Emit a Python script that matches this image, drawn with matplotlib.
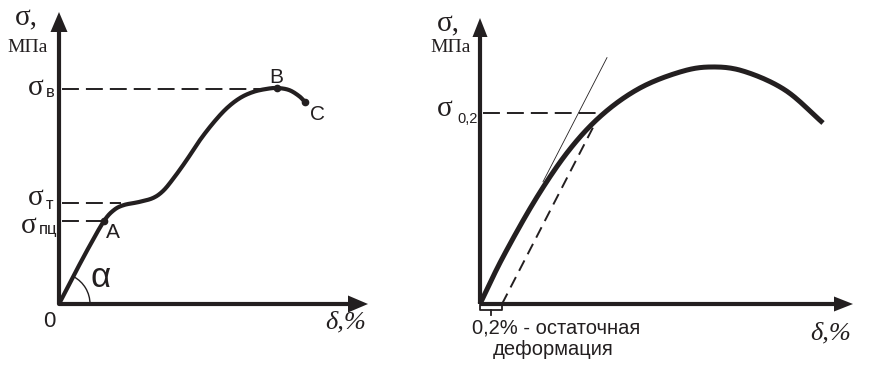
import numpy as np
import matplotlib
matplotlib.use("Agg")
import matplotlib.pyplot as plt
from matplotlib.patches import Polygon, Arc

# ---------------- data (strain, stress in drawing units) ----------------
left_delta = [0, 15, 30, 45, 55, 65, 80, 94, 104, 114, 127, 141, 155, 168, 181, 194, 207, 218, 230, 240, 246]
left_sigma = [0, 29, 57, 83, 94, 99, 102, 106, 113, 125, 143, 164, 182, 196, 206, 212, 215, 216, 214, 208, 202]
left_points = {"A": (45, 83), "B": (218, 216), "C": (246, 202)}
sigma_levels_left = {"в": 215, "т": 101, "пц": 83}

right_delta = [0, 23, 57, 90, 123, 160, 200, 230, 263, 305, 343]
right_sigma = [0, 47, 107, 155, 190, 216, 232, 237, 233, 214, 181]
sigma_02 = 191
offset_strain = 22          # 0,2 % offset
elastic_slope = 1.94        # slope of the initial (elastic) line
tangent_range = (63, 127)
offset_range = (offset_strain, 118)

INK = "#231f20"
SERIF = "Liberation Serif"
SANS = "Liberation Sans"


def smooth(xs, ys, n=20):
    """Catmull-Rom rendering of the read-off points."""
    x = np.asarray(xs, float)
    y = np.asarray(ys, float)
    P = np.column_stack([x, y])
    P = np.vstack([2 * P[0] - P[1], P, 2 * P[-1] - P[-2]])
    out = []
    t = np.linspace(0, 1, n, endpoint=False)[:, None]
    for i in range(1, len(P) - 2):
        p0, p1, p2, p3 = P[i - 1], P[i], P[i + 1], P[i + 2]
        seg = 0.5 * ((2 * p1) + (-p0 + p2) * t + (2 * p0 - 5 * p1 + 4 * p2 - p3) * t ** 2
                     + (-p0 + 3 * p1 - 3 * p2 + p3) * t ** 3)
        out.append(seg)
    out.append(P[-2][None, :])
    out = np.vstack(out)
    return out[:, 0], out[:, 1]


W, H = 876, 371
fig = plt.figure(figsize=(W / 100, H / 100), dpi=100)


def make_axes(x0, y0, x1, y1):
    ax = fig.add_axes([x0 / W, (H - y0) / H, (x1 - x0) / W, (y0 - y1) / H])
    ax.set_xlim(0, x1 - x0)
    ax.set_ylim(0, y0 - y1)
    ax.axis("off")
    return ax


def draw_axes_arrows(ax, xmax, ymax, head_len=20, head_w=8.5):
    ax.plot([0, 0], [0, ymax - head_len + 2], color=INK, lw=3.0, clip_on=False,
            solid_capstyle="butt")
    ax.plot([0, xmax - head_len + 2], [0, 0], color=INK, lw=3.0, clip_on=False,
            solid_capstyle="butt")
    ax.add_patch(Polygon([[0, ymax], [-head_w, ymax - head_len], [head_w, ymax - head_len]],
                         closed=True, color=INK, clip_on=False, lw=0))
    ax.add_patch(Polygon([[xmax, 0], [xmax - head_len, head_w], [xmax - head_len, -head_w]],
                         closed=True, color=INK, clip_on=False, lw=0))


def dashed_h(ax, y, x_end):
    ax.plot([3, x_end], [y, y], color=INK, lw=1.4, dashes=(8.7, 3.6), clip_on=False)


# ======================= LEFT PANEL =======================
axL = make_axes(59, 304, 368, 12)
draw_axes_arrows(axL, 309, 292)

dashed_h(axL, sigma_levels_left["в"], left_points["B"][0])
dashed_h(axL, sigma_levels_left["т"], 62)
dashed_h(axL, sigma_levels_left["пц"], left_points["A"][0])

xs, ys = smooth(left_delta, left_sigma)
axL.plot(xs, ys, color=INK, lw=3.0, solid_capstyle="round", solid_joinstyle="round",
         clip_on=False, zorder=3)
for name, (px, py) in left_points.items():
    axL.plot(px, py, "o", color=INK, ms=4.5, zorder=4, clip_on=False)

ang = np.degrees(np.arctan2(left_sigma[3], left_delta[3]))
axL.add_patch(Arc((0, 0), 62, 62, theta1=0, theta2=ang, color=INK, lw=1.0, clip_on=False))

axL.text(-44, 279, "σ,", fontsize=21, family=SERIF, color=INK, va="baseline", ha="left")
axL.text(-52, 252, "МПа", fontsize=14, family=SERIF, color=INK, va="baseline", ha="left")

axL.text(-31, 209, "σ", fontsize=21, family=SERIF, color=INK, va="baseline")
axL.text(-13, 207, "в", fontsize=12, family=SANS, color=INK, va="baseline")
axL.text(-31, 99, "σ", fontsize=21, family=SERIF, color=INK, va="baseline")
axL.text(-13, 95, "т", fontsize=12, family=SANS, color=INK, va="baseline")
axL.text(-38, 71, "σ", fontsize=21, family=SERIF, color=INK, va="baseline")
axL.text(-20, 70, "пц", fontsize=12, family=SANS, color=INK, va="baseline")

axL.text(47, 66, "A", fontsize=15, family=SANS, color=INK, va="baseline")
axL.text(210, 221, "B", fontsize=15, family=SANS, color=INK, va="baseline")
axL.text(251, 184, "C", fontsize=15, family=SANS, color=INK, va="baseline")
axL.text(31, 17, "α", fontsize=25, family=SANS, color=INK, va="baseline")
axL.text(-16, -23, "0", fontsize=16, family=SANS, color=INK, va="baseline")
axL.text(266, -24, "δ,%", fontsize=19, family=SERIF, style="italic", color=INK, va="baseline")

# ======================= RIGHT PANEL =======================
axR = make_axes(480, 304, 853, 18)
draw_axes_arrows(axR, 373, 286, head_len=19, head_w=7.5)

dashed_h(axR, sigma_02, 121)
xs, ys = smooth(right_delta, right_sigma)
axR.plot(xs, ys, color=INK, lw=3.6, solid_capstyle="butt", solid_joinstyle="round",
         clip_on=False, zorder=3)

tx = np.array(tangent_range, float)
axR.plot(tx, elastic_slope * tx, color=INK, lw=0.6, clip_on=False, zorder=2)
ox = np.array(offset_range, float)
axR.plot(ox, elastic_slope * (ox - offset_strain), color=INK, lw=1.4, dashes=(6.0, 3.6),
         clip_on=False, zorder=2)

# brace marking the 0,2 % offset
bx = [0, 0, offset_strain, offset_strain]
by = [-1, -6, -6, -1]
axR.plot(bx, by, color=INK, lw=1.3, clip_on=False)
axR.plot([offset_strain / 2, offset_strain / 2], [-6, -11], color=INK, lw=1.3, clip_on=False)

axR.text(-43, 273, "σ,", fontsize=21, family=SERIF, color=INK, va="baseline", ha="left")
axR.text(-50, 252, "МПа", fontsize=14, family=SERIF, color=INK, va="baseline", ha="left")
axR.text(-43, 188, "σ", fontsize=21, family=SERIF, color=INK, va="baseline")
axR.text(-23, 181, "0,2", fontsize=10.5, family=SANS, color=INK, va="baseline")

axR.text(-8, -29, "0,2% - остаточная", fontsize=14.5, family=SANS, color=INK, va="baseline")
axR.text(13, -51, "деформация", fontsize=14.5, family=SANS, color=INK, va="baseline")
axR.text(330, -35, "δ,%", fontsize=19, family=SERIF, style="italic", color=INK, va="baseline")

fig.savefig("out.png", dpi=100, facecolor="white")
